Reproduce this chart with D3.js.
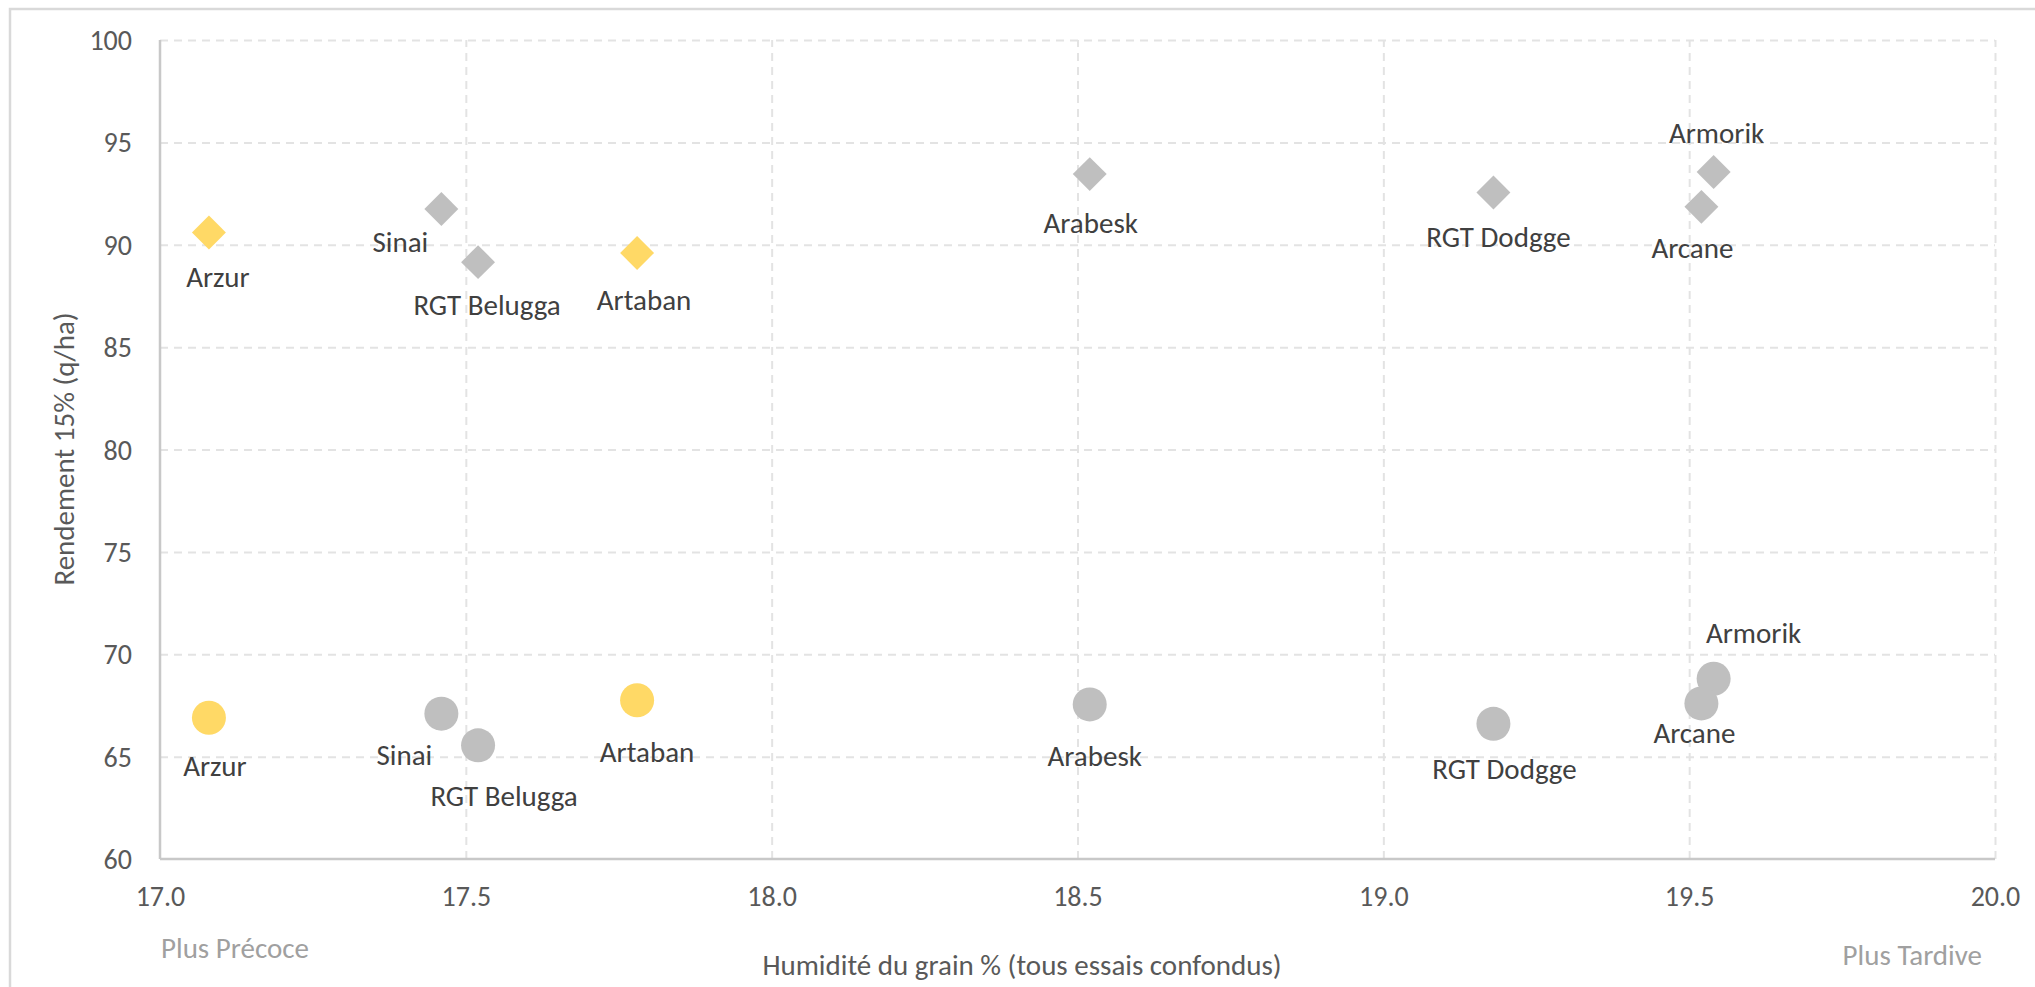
<!DOCTYPE html>
<meta charset="utf-8">
<style>
    body { margin: 0; background: #fff; }
    text { font-family: Calibri, Carlito, "Open Sans", sans-serif; }
</style>
<script src="https://d3js.org/d3.v7.min.js"></script>

<div id="chart"></div>

<script>
// varieties, moisture at harvest (x) and yield 15% for the two series
var varietes = ["Arzur", "Sinai", "RGT Belugga", "Artaban", "Arabesk", "RGT Dodgge", "Armorik", "Arcane"];
var humidite = [17.08, 17.46, 17.52, 17.78, 18.52, 19.18, 19.54, 19.52];
var rendementLosange = [90.6, 91.75, 89.15, 89.6, 93.45, 92.55, 93.55, 91.85];
var rendementRond = [66.9, 67.1, 65.55, 67.75, 67.55, 66.6, 68.8, 67.6];
var misEnAvant = ["Arzur", "Artaban"];

var xTicks = [17.0, 17.5, 18.0, 18.5, 19.0, 19.5, 20.0];
var yTicks = [60, 65, 70, 75, 80, 85, 90, 95, 100];

// label offsets (dx, dy) from the point, as placed in the original chart
var decalLosange = [[9, 45], [-41, 34], [9, 44], [7, 48], [1, 50], [5, 45], [3, -38], [-9, 42]];
var decalRond = [[6, 49], [-37, 42], [26, 51], [10, 52], [5, 52], [11, 46], [40, -45], [-7, 30]];

var W = 2035, H = 987;
var margin = {top: 40, right: 40, bottom: 128, left: 160};

var svg = d3.select("#chart")
  .append("svg")
    .attr("width", W)
    .attr("height", H);

// chart area frame (only top and left edges show in the picture)
svg.append("rect")
    .attr("x", 10).attr("y", 9)
    .attr("width", W).attr("height", H)
    .attr("fill", "none")
    .attr("stroke", "#d9d9d9")
    .attr("stroke-width", 2.5);

var x = d3.scaleLinear()
    .domain([17, 20])
    .range([margin.left, W - margin.right]);

var y = d3.scaleLinear()
    .domain([60, 100])
    .range([H - margin.bottom, margin.top]);

// grid
svg.append("g")
    .attr("transform", `translate(0, ${H - margin.bottom})`)
    .call(d3.axisBottom(x).tickValues(xTicks.slice(1)).tickSize(-(H - margin.bottom - margin.top)).tickFormat(""))
    .call(g => g.select(".domain").remove())
    .selectAll("line")
      .attr("stroke", "#e3e3e3")
      .attr("stroke-width", 2)
      .attr("stroke-dasharray", "8,6");

svg.append("g")
    .attr("transform", `translate(${margin.left}, 0)`)
    .call(d3.axisLeft(y).tickValues(yTicks.slice(1)).tickSize(-(W - margin.right - margin.left)).tickFormat(""))
    .call(g => g.select(".domain").remove())
    .selectAll("line")
      .attr("stroke", "#e3e3e3")
      .attr("stroke-width", 2)
      .attr("stroke-dasharray", "8,6");

// axis lines
svg.append("line")
    .attr("x1", x(17)).attr("x2", x(17))
    .attr("y1", y(100)).attr("y2", y(60))
    .attr("stroke", "#c8c8c8").attr("stroke-width", 2.5);
svg.append("line")
    .attr("x1", x(17)).attr("x2", x(20))
    .attr("y1", y(60)).attr("y2", y(60))
    .attr("stroke", "#c8c8c8").attr("stroke-width", 2.5);

// tick labels
svg.append("g")
    .attr("transform", `translate(${margin.left}, 0)`)
    .call(d3.axisLeft(y).tickValues(yTicks).tickSize(0).tickPadding(28).tickFormat(d3.format("d")))
    .call(g => g.select(".domain").remove())
    .selectAll("text")
      .attr("fill", "#595959")
      .style("font-size", "28px")
      .attr("dy", "0.34em");

svg.append("g")
    .attr("transform", `translate(0, ${H - margin.bottom})`)
    .call(d3.axisBottom(x).tickValues(xTicks).tickSize(0).tickPadding(27).tickFormat(d3.format(".1f")))
    .call(g => g.select(".domain").remove())
    .selectAll("text")
      .attr("fill", "#595959")
      .style("font-size", "28px");

var couleur = function(nom) {
    return misEnAvant.indexOf(nom) >= 0 ? "#ffd966" : "#bfbfbf";
};

var idx = d3.range(varietes.length);

// diamond series
svg.append("g")
    .selectAll("path")
    .data(idx)
    .join("path")
      .attr("transform", i => `translate(${x(humidite[i])}, ${y(rendementLosange[i])}) rotate(45)`)
      .attr("d", d3.symbol().type(d3.symbolSquare).size(24 * 24))
      .attr("fill", i => couleur(varietes[i]));

// circle series
svg.append("g")
    .selectAll("circle")
    .data(idx)
    .join("circle")
      .attr("cx", i => x(humidite[i]))
      .attr("cy", i => y(rendementRond[i]))
      .attr("r", 17)
      .attr("fill", i => couleur(varietes[i]));

// data labels
function etiquettes(valeurs, decal) {
    svg.append("g")
        .selectAll("text")
        .data(idx)
        .join("text")
          .attr("x", i => x(humidite[i]) + decal[i][0])
          .attr("y", i => y(valeurs[i]) + decal[i][1] + 9.3)
          .attr("text-anchor", "middle")
          .attr("fill", "#404040")
          .style("font-size", "29px")
          .text(i => varietes[i]);
}
etiquettes(rendementLosange, decalLosange);
etiquettes(rendementRond, decalRond);

// axis titles
svg.append("text")
    .attr("x", 1022).attr("y", 975)
    .attr("text-anchor", "middle")
    .attr("fill", "#595959")
    .style("font-size", "29px")
    .text("Humidité du grain % (tous essais confondus)");

svg.append("text")
    .attr("transform", "translate(74, 449) rotate(-90)")
    .attr("text-anchor", "middle")
    .attr("fill", "#595959")
    .style("font-size", "29px")
    .text("Rendement 15% (q/ha)");

svg.append("text")
    .attr("x", 161).attr("y", 958)
    .attr("fill", "#a0a0a0")
    .style("font-size", "29px")
    .text("Plus Précoce");

svg.append("text")
    .attr("x", 1982).attr("y", 965)
    .attr("text-anchor", "end")
    .attr("fill", "#a0a0a0")
    .style("font-size", "29px")
    .text("Plus Tardive");
</script>
